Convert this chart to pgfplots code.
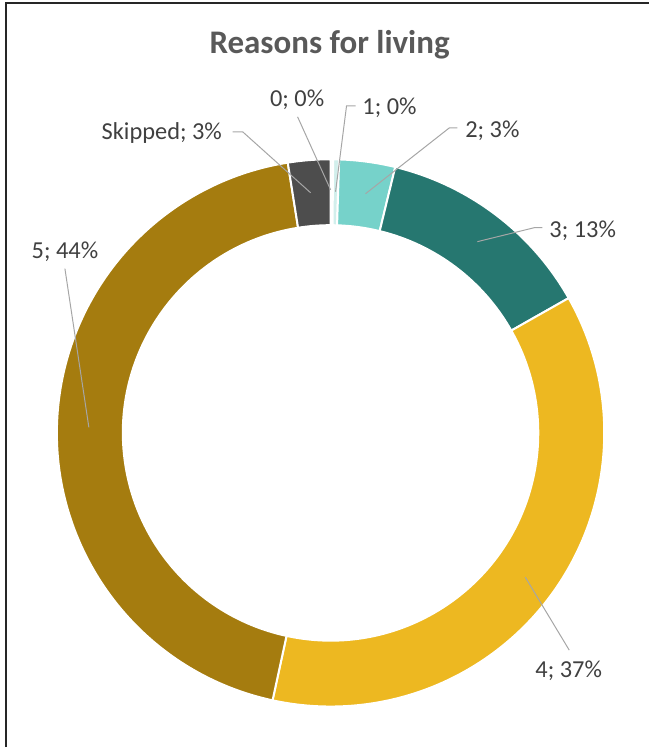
\documentclass[border=0pt]{standalone}
\usepackage{pgfplots}
\usepackage{pgfplotstable}
\pgfplotsset{compat=1.18}
\usepackage{fontspec}
\setmainfont{Carlito}
\definecolor{s0}{HTML}{E3F5F3}
\definecolor{s1}{HTML}{D2EFEC}
\definecolor{s2}{HTML}{76D2CA}
\definecolor{s3}{HTML}{267770}
\definecolor{s4}{HTML}{EDB821}
\definecolor{s5}{HTML}{A57C0F}
\definecolor{s6}{HTML}{4D4D4D}
\definecolor{lbl}{HTML}{404040}
\definecolor{ttl}{HTML}{595959}
\definecolor{lead}{HTML}{A6A6A6}
\definecolor{frame}{HTML}{262626}

% share of each answer, in percent, clockwise from 12 o'clock
\pgfplotstableread{
label   value  col
0       0.15   s0
1       0.35   s1
2       3.3    s2
3       13.0   s3
4       36.6   s4
5       44.1   s5
Skipped 2.5    s6
}\datatable

\begin{document}
\begin{tikzpicture}
\begin{axis}[
  at={(0,0)}, anchor=south west,
  scale only axis, width=325pt, height=374pt,
  xmin=0, xmax=650, ymin=0, ymax=748,
  hide axis, clip=false]
\path (axis cs:0,0) rectangle (axis cs:650,748);
\coordinate (C) at (axis cs:331,314.5);
\pgfplotstablegetrowsof{\datatable}
\pgfmathtruncatemacro\N{\pgfplotsretval-1}
\gdef\cum{0}
\pgfplotsforeachungrouped \i in {0,...,\N}{
  \pgfplotstablegetelem{\i}{value}\of\datatable \let\v\pgfplotsretval
  \pgfplotstablegetelem{\i}{col}\of\datatable \let\c\pgfplotsretval
  \pgfmathsetmacro\a{90-\cum*3.6}
  \pgfmathsetmacro\b{90-(\cum+\v)*3.6}
  \edef\temp{\noexpand\fill[\c, draw=white, line width=1pt] (C) ++(\a:137pt) arc[start angle=\a, end angle=\b, radius=137pt] -- ([shift={(\b:104pt)}]C) arc[start angle=\b, end angle=\a, radius=104pt] -- cycle;}
  \temp
  \pgfmathsetmacro\newcum{\cum+\v}\xdef\cum{\newcum}
}
% leader lines
\begin{scope}[lead, line width=0.5pt]
\draw (axis cs:233,616) -- (axis cs:243,616) -- (axis cs:311,555);
\draw (axis cs:298,631) -- (axis cs:331,558);
\draw (axis cs:356,642) -- (axis cs:347,642) -- (axis cs:336,556);
\draw (axis cs:458,620) -- (axis cs:450,620) -- (axis cs:366,554);
\draw (axis cs:543,520) -- (axis cs:535,520) -- (axis cs:478,506);
\draw (axis cs:570,97) -- (axis cs:526,170);
\draw (axis cs:65,479) -- (axis cs:89,320);
\end{scope}
% labels
\begin{scope}[every node/.style={anchor=base, inner sep=0pt, text=lbl, font=\fontsize{12.2}{14}\selectfont}]
\node at (axis cs:162,608) {Skipped; 3\%};
\node at (axis cs:297.5,641) {0; 0\%};
\node at (axis cs:390,633) {1; 0\%};
\node at (axis cs:493,610) {2; 3\%};
\node at (axis cs:583.5,510) {3; 13\%};
\node at (axis cs:569.5,70) {4; 37\%};
\node at (axis cs:65,489) {5; 44\%};
\end{scope}
\node[anchor=base, inner sep=0pt, text=ttl, font=\bfseries\fontsize{16.5}{19}\selectfont] at (axis cs:330,694) {Reasons for living};
% frame
\draw[frame, line width=1pt] (axis cs:6,0) -- (axis cs:6,745) -- (axis cs:650,745);
\end{axis}
\end{tikzpicture}
\end{document}
